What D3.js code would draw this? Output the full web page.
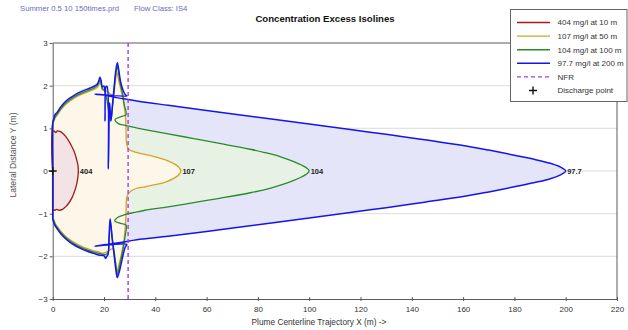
<!DOCTYPE html>
<html>
<head>
<meta charset="utf-8">
<script src="https://cdn.jsdelivr.net/npm/d3@7"></script>
<style>
  html, body { margin: 0; padding: 0; background: #fff; }
  svg { display: block; font-family: "Liberation Sans", Arial, sans-serif; }
</style>
</head>
<body>
<svg id="chart" width="628" height="330"></svg>
<script>
// Axis ticks
const xTicks = [0, 20, 40, 60, 80, 100, 120, 140, 160, 180, 200, 220];
const yTicks = [-3, -2, -1, 0, 1, 2, 3];
const gridY = [-2, -1, 0, 1, 2];

// Isoline levels (legend order)
const levelNames = ["404 mg/l at 10 m", "107 mg/l at 50 m", "104 mg/l at 100 m", "97.7 mg/l at 200 m"];
const levelLabels = ["404", "107", "104", "97.7"];
const levelTipX = [10, 50, 100, 200];
const nfrX = 29.4;

// Isoline outlines, [x (m), y (m)]
const iso404 = [
  [0, 0], [0, 0.92], [0.5, 0.94], [1.2, 0.9], [1.8, 0.94], [2.8, 0.93], [4, 0.88], [5.2, 0.8],
  [6.3, 0.7], [7.4, 0.58], [8.4, 0.45], [9.2, 0.3], [9.8, 0.15], [10, 0], [9.8, -0.15],
  [9.3, -0.32], [8.5, -0.48], [7.5, -0.63], [6.3, -0.75], [5, -0.84], [3.8, -0.9], [2.6, -0.92],
  [1.5, -0.9], [0.7, -0.92], [0, -0.9]
];

const iso107 = [
  [0, 0], [0, 1.08], [0.5, 1.17], [1, 1.25], [1.8, 1.31], [3, 1.42], [4.5, 1.53], [6.5, 1.63],
  [8.5, 1.71], [11, 1.79], [13.5, 1.85], [16, 1.91], [17.4, 1.96], [18.0, 2.02], [18.4, 2.07],
  [18.9, 2.0], [19.4, 1.9], [21, 1.87], [23.5, 1.78], [24.4, 2.1], [25.1, 2.3], [25.8, 2.1],
  [26.8, 1.85], [27.8, 1.55], [28.4, 1.25], [28.6, 0.95], [28.8, 0.65], [29.5, 0.52],
  [30.8, 0.47], [33, 0.43], [36, 0.39], [40, 0.33], [44, 0.26], [47, 0.18], [49, 0.1], [50, 0],
  [49, -0.1], [47, -0.18], [44, -0.26], [40, -0.32], [36, -0.37], [32.5, -0.41], [30.5, -0.47],
  [29.3, -0.55], [28.8, -0.63], [28.6, -0.95], [28.4, -1.25], [27.8, -1.6], [26.8, -1.95],
  [25.8, -2.2], [25.1, -2.35], [24.4, -2.1], [23.5, -1.82], [21, -1.9], [19.5, -1.93],
  [18, -1.9], [16, -1.87], [13.5, -1.82], [11, -1.76], [8.5, -1.68], [6.5, -1.6], [4.5, -1.5],
  [3, -1.4], [1.8, -1.3], [1, -1.23], [0.5, -1.15], [0, -1.07]
];

const iso104 = [
  [0, 0], [0, 1.1], [0.5, 1.2], [1, 1.28], [1.8, 1.34], [3, 1.45], [4.5, 1.56], [6.5, 1.66],
  [8.5, 1.74], [11, 1.82], [13.5, 1.88], [16, 1.94], [17.4, 2.0], [18.0, 2.07], [18.4, 2.13],
  [18.9, 2.06], [19.4, 1.93], [20.2, 1.9], [22.6, 1.17], [23.3, 1.5], [24.0, 1.93], [24.6, 2.28],
  [25.2, 2.45], [25.8, 2.25], [26.5, 2.0], [27.3, 1.8], [27.9, 1.55], [28.6, 1.32], [26.5, 1.27],
  [24.3, 1.21], [25.6, 1.11], [28.2, 1.07], [32, 1.02], [36, 0.97], [45, 0.87], [55, 0.76],
  [65, 0.65], [77, 0.51], [85, 0.4], [90, 0.31], [94, 0.22], [97, 0.14], [99, 0.07], [100, 0],
  [99, -0.07], [97, -0.14], [94, -0.22], [90, -0.31], [85, -0.4], [77, -0.51], [65, -0.64],
  [55, -0.74], [45, -0.84], [36, -0.92], [32, -0.97], [28.2, -1.02], [25.6, -1.08], [24.2, -1.17],
  [26.5, -1.23], [28.6, -1.27], [28.3, -1.5], [27.5, -1.8], [26.5, -2.1], [25.8, -2.3],
  [25.2, -2.42], [24.6, -2.2], [23.9, -1.88], [23.2, -1.55], [22.5, -1.2], [22, -1.6],
  [21.5, -1.92], [20.5, -1.96], [18, -1.93], [16, -1.9], [13.5, -1.85], [11, -1.79], [8.5, -1.71],
  [6.5, -1.63], [4.5, -1.53], [3, -1.43], [1.8, -1.33], [1, -1.26], [0.5, -1.18], [0, -1.1]
];

const iso97 = [
  [0, 0], [0, 1.13], [0.4, 1.22], [0.9, 1.32], [1.8, 1.38], [3, 1.49], [4.5, 1.6], [6.5, 1.7],
  [8.5, 1.78], [11, 1.86], [13.5, 1.92], [16, 1.98], [17.4, 2.04], [18.0, 2.12], [18.4, 2.2],
  [18.9, 2.12], [19.3, 1.97], [20.0, 1.99], [20.4, 1.18], [20.8, 1.98], [21.2, 1.98], [21.7, 0.05],
  [22.2, 1.6], [22.7, 1.18], [23.3, 1.55], [24.0, 2.0], [24.6, 2.35], [25.2, 2.54], [25.8, 2.35],
  [26.5, 2.08], [27.4, 1.9], [28.3, 1.79], [28.9, 1.76], [16.5, 1.8], [20, 1.78], [25, 1.72],
  [30, 1.67], [34, 1.63], [45, 1.54], [60, 1.42], [80, 1.26], [100, 1.1], [116, 0.97], [130, 0.86],
  [145, 0.73], [160, 0.6], [170, 0.49], [180, 0.37], [188, 0.27], [194, 0.18], [198, 0.09],
  [200, 0], [198, -0.09], [194, -0.18], [188, -0.27], [180, -0.37], [170, -0.49], [160, -0.6],
  [145, -0.73], [130, -0.86], [116, -0.97], [100, -1.1], [80, -1.26], [60, -1.42], [45, -1.53],
  [34, -1.6], [30, -1.64], [25, -1.69], [20, -1.73], [16.5, -1.76], [28.9, -1.72], [28.3, -1.78],
  [27.5, -1.95], [26.6, -2.2], [25.8, -2.4], [25.2, -2.5], [24.6, -2.3], [23.9, -1.95],
  [23.2, -1.6], [22.4, -1.12], [22.0, -1.5], [21.6, -1.95], [21.1, -2.0], [20.6, -2.05],
  [20.1, -1.99], [18, -1.97], [16, -1.93], [13.5, -1.88], [11, -1.82], [8.5, -1.74],
  [6.5, -1.66], [4.5, -1.56], [3, -1.46], [1.8, -1.36], [0.9, -1.28], [0.4, -1.2], [0, -1.12]
];

const strokeColors = ["#a31a1a", "#d4a22a", "#2a8a2a", "#1414f0"];
const fillColors = ["#f3e3e5", "#fdf7e9", "#e8f2e4", "#e5e5f9"];
const nfrColor = "#a63ee0";

const svg = d3.select("#chart");
const margin = { left: 52.7, right: 617, top: 43, bottom: 299 };
const x = d3.scaleLinear().domain([0, 220]).range([margin.left, margin.right]);
const y = d3.scaleLinear().domain([-3, 3]).range([margin.bottom, margin.top]);

// Header text
svg.append("text").attr("x", 20).attr("y", 10.5)
  .attr("font-size", 7.7).attr("fill", "#6a6ac4")
  .text("Summer 0.5 10 150times.prd");
svg.append("text").attr("x", 134).attr("y", 10.5)
  .attr("font-size", 7.7).attr("fill", "#6a6ac4")
  .text("Flow Class: IS4");
svg.append("text").attr("x", 325).attr("y", 21.5)
  .attr("text-anchor", "middle").attr("font-size", 9.6).attr("font-weight", "bold")
  .attr("fill", "#111").text("Concentration Excess Isolines");

// Grid
svg.append("g").selectAll("line").data(gridY).join("line")
  .attr("x1", margin.left).attr("x2", margin.right)
  .attr("y1", d => y(d)).attr("y2", d => y(d))
  .attr("stroke", "#dcdcdc").attr("stroke-width", 1);

const line = d3.line().x(d => x(d[0])).y(d => y(d[1])).curve(d3.curveCatmullRom.alpha(0.5));
const isolines = [iso404, iso107, iso104, iso97];

// Fills, widest first
const fillOrder = [3, 2, 1, 0];
svg.append("g").selectAll("path").data(fillOrder).join("path")
  .attr("d", i => line(isolines[i]) + "Z")
  .attr("fill", i => fillColors[i]).attr("stroke", "none");

// Frame and axes
const axisColor = "#5a5a5a";
const xAxis = d3.axisBottom(x).tickValues(xTicks).tickSize(2).tickSizeOuter(0).tickFormat(d3.format("d"));
const yAxis = d3.axisLeft(y).tickValues(yTicks).tickSize(3).tickSizeOuter(0).tickFormat(d3.format("d"));

const gx = svg.append("g").attr("transform", `translate(0,${margin.bottom})`).call(xAxis);
const gy = svg.append("g").attr("transform", `translate(${margin.left},0)`).call(yAxis);
[gx, gy].forEach(g => {
  g.select(".domain").attr("stroke", axisColor);
  g.selectAll(".tick line").attr("stroke", axisColor);
  g.selectAll(".tick text").attr("fill", "#333").attr("font-size", 8)
    .attr("font-family", "Liberation Sans, Arial, sans-serif");
});
gx.selectAll(".tick line").attr("y1", -2);
gx.selectAll(".tick text").attr("dy", "0.85em").attr("y", 6);
gy.selectAll(".tick text").attr("x", -5);
svg.append("line").attr("x1", margin.left).attr("x2", margin.right)
  .attr("y1", margin.top).attr("y2", margin.top).attr("stroke", axisColor);
svg.append("line").attr("x1", margin.right).attr("x2", margin.right)
  .attr("y1", margin.top).attr("y2", margin.bottom).attr("stroke", axisColor);

// Isoline strokes
const strokeOrder = [1, 2, 0, 3];
svg.append("g").selectAll("path").data(strokeOrder).join("path")
  .attr("d", i => line(isolines[i]) + "Z")
  .attr("fill", "none").attr("stroke", i => strokeColors[i])
  .attr("stroke-width", i => i === 3 ? 1.5 : 1.3)
  .attr("stroke-linejoin", "round");

// Value labels at the tips
svg.append("g").selectAll("text").data(levelLabels).join("text")
  .attr("x", (d, i) => x(levelTipX[i]) + 1.5).attr("y", y(0))
  .attr("dy", "0.35em").attr("font-size", 7.5).attr("font-weight", "bold")
  .attr("fill", "#222").text(d => d);

// Near-field region boundary
svg.append("line").attr("x1", x(nfrX)).attr("x2", x(nfrX))
  .attr("y1", margin.top).attr("y2", margin.bottom)
  .attr("stroke", nfrColor).attr("stroke-width", 1.4).attr("stroke-dasharray", "4,3");

// Discharge point
const dp = [x(0), y(0)];
svg.append("path").attr("d", `M${dp[0] - 4},${dp[1]}H${dp[0] + 4}M${dp[0]},${dp[1] - 4}V${dp[1] + 4}`)
  .attr("stroke", "#111").attr("stroke-width", 1.4);

// Axis titles
svg.append("text").attr("x", 319).attr("y", 324.5).attr("text-anchor", "middle")
  .attr("font-size", 8.3).attr("fill", "#333").text("Plume Centerline Trajectory X (m) ->");
svg.append("text").attr("transform", "translate(15.5,155) rotate(-90)").attr("text-anchor", "middle")
  .attr("font-size", 8.6).attr("fill", "#555").text("Lateral Distance Y (m)");

// Legend
const lg = svg.append("g");
lg.append("rect").attr("x", 510.5).attr("y", 9.5).attr("width", 116.5).attr("height", 92)
  .attr("fill", "#fff").attr("stroke", "#666");
const legendItems = levelNames.map((n, i) => ({ name: n, color: strokeColors[i], kind: "line" }))
  .concat([{ name: "NFR", color: nfrColor, kind: "dash" }, { name: "Discharge point", color: "#111", kind: "plus" }]);
const rowY = i => 22.5 + i * 13.6;
legendItems.forEach((it, i) => {
  const yy = rowY(i);
  if (it.kind === "plus") {
    lg.append("path").attr("d", `M529,${yy}H537M533,${yy - 4}V${yy + 4}`)
      .attr("stroke", it.color).attr("stroke-width", 1.4);
  } else {
    lg.append("line").attr("x1", 517).attr("x2", 550).attr("y1", yy).attr("y2", yy)
      .attr("stroke", it.color).attr("stroke-width", 1.4)
      .attr("stroke-dasharray", it.kind === "dash" ? "4,3" : null);
  }
  lg.append("text").attr("x", 557.5).attr("y", yy).attr("dy", "0.35em")
    .attr("font-size", 8).attr("fill", "#333").text(it.name);
});
</script>
</body>
</html>
